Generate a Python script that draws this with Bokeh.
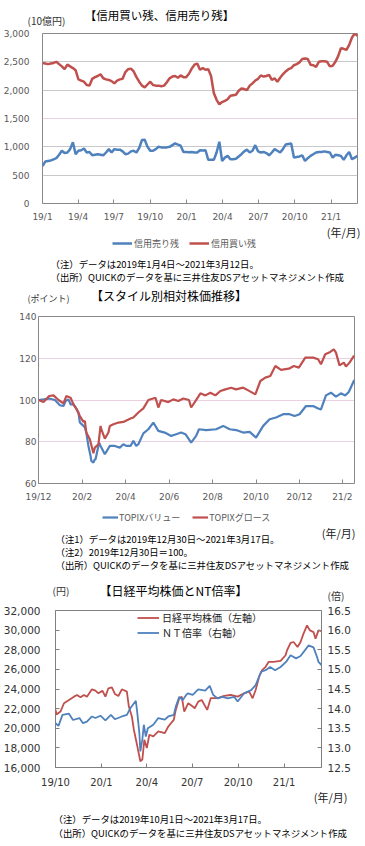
import pandas as pd
from bokeh.plotting import figure
from bokeh.layouts import column
from bokeh.models import (ColumnDataSource, Range1d, LinearAxis, FixedTicker, NumeralTickFormatter,
                          Legend, LegendItem, Span, Label)
from bokeh.embed import file_html
from bokeh.resources import INLINE

# ---------------- data: chart 1 (weekly, 10億円) ----------------
c1_start = "2019-01-04"
c1_end = "2021-03-12"
c1_buy = [2480, 2470, 2460, 2470, 2480, 2500, 2460, 2420, 2370, 2450,
          2420, 2390, 2350, 2190, 2170, 2150, 2090, 2080, 2200, 2230,
          2250, 2280, 2210, 2190, 2180, 2160, 2120, 2170, 2190, 2200,
          2320, 2370, 2380, 2330, 2230, 2150, 2080, 2050, 2100, 2150,
          2090, 2080, 2080, 2070, 2080, 2140, 2210, 2240, 2250, 2220,
          2260, 2230, 2230, 2290, 2380, 2450, 2470, 2360, 2390, 2360,
          2370, 2250, 1950, 1830, 1750, 1790, 1810, 1840, 1900, 1910,
          1920, 1990, 2030, 2020, 2000, 2080, 2120, 2170, 2200, 2260,
          2240, 2250, 2270, 2180, 2210, 2150, 2220, 2280, 2330, 2370,
          2390, 2440, 2460, 2490, 2550, 2560, 2550, 2450, 2440, 2410,
          2500, 2510, 2510, 2500, 2420, 2430, 2500, 2600, 2740, 2730,
          2710, 2800, 2930, 3000, 2960]
c1_sell = [660, 740, 750, 760, 780, 800, 860, 930, 890, 900,
           960, 1080, 870, 930, 940, 970, 900, 910, 850, 860,
           870, 860, 850, 900, 960, 900, 960, 950, 950, 920,
           870, 880, 920, 930, 900, 980, 1120, 1125, 1000, 930,
           930, 960, 1000, 990, 990, 990, 1000, 1030, 1060, 1040,
           1020, 910, 910, 905, 910, 900, 900, 940, 935, 940,
           770, 770, 770, 900, 1090, 750, 810, 840, 780, 780,
           790, 830, 870, 920, 950, 900, 930, 1030, 920, 900,
           910, 890, 850, 900, 960, 930, 900, 960, 1040, 1050,
           1060, 810, 820, 830, 850, 750, 800, 840, 870, 900,
           910, 910, 920, 910, 900, 810, 860, 850, 840, 770,
           850, 910, 780, 810, 840]
c1_tick_dates = ["2019-01-04", "2019-04-04", "2019-07-04", "2019-10-04", "2020-01-04",
                 "2020-04-04", "2020-07-04", "2020-10-04", "2021-01-04"]
c1_tick_labels = ["19/1", "19/4", "19/7", "19/10", "20/1", "20/4", "20/7", "20/10", "21/1"]
c1_yticks = [0, 500, 1000, 1500, 2000, 2500, 3000]

# ---------------- data: chart 2 (relative index) ----------------
c2_growth_dates = ["2019-12-30", "2020-01-06", "2020-01-14", "2020-01-20", "2020-01-27", "2020-02-03",
                   "2020-02-07", "2020-02-13", "2020-02-17", "2020-02-21", "2020-02-26", "2020-03-02",
                   "2020-03-04", "2020-03-06", "2020-03-11", "2020-03-16", "2020-03-18", "2020-03-23",
                   "2020-03-26", "2020-03-27", "2020-04-01", "2020-04-06", "2020-04-08", "2020-04-13",
                   "2020-04-20", "2020-04-27", "2020-05-07", "2020-05-11", "2020-05-18", "2020-05-25",
                   "2020-06-01", "2020-06-11", "2020-06-15", "2020-06-19", "2020-06-29", "2020-07-06",
                   "2020-07-13", "2020-07-20", "2020-07-28", "2020-07-31", "2020-08-06", "2020-08-13",
                   "2020-08-20", "2020-08-27", "2020-09-03", "2020-09-10", "2020-09-17", "2020-09-25",
                   "2020-10-02", "2020-10-12", "2020-10-19", "2020-10-29", "2020-11-05", "2020-11-12",
                   "2020-11-19", "2020-11-26", "2020-12-04", "2020-12-15", "2020-12-22", "2020-12-29",
                   "2021-01-07", "2021-01-18", "2021-01-25", "2021-01-29", "2021-02-04", "2021-02-11",
                   "2021-02-16", "2021-02-19", "2021-02-24", "2021-03-02", "2021-03-05", "2021-03-10",
                   "2021-03-16", "2021-03-17"]
c2_growth = [100.0, 99.0, 101.9, 102.2, 100.0, 98.4,
             101.9, 101.1, 97.9, 95.9, 92.3, 89.5,
             90.0, 84.4, 81.2, 74.5, 77.2, 78.8,
             87.6, 86.0, 81.5, 84.4, 87.6, 88.4,
             89.2, 89.5, 91.1, 91.6, 94.0, 96.0,
             100.0, 101.1, 96.4, 100.0, 99.0, 100.3,
             99.5, 100.7, 100.0, 96.4, 99.5, 103.2,
             102.2, 103.5, 102.2, 104.3, 105.1, 105.9,
             105.1, 105.9, 104.6, 102.7, 109.1, 110.7,
             111.5, 116.3, 114.4, 115.0, 116.3, 115.5,
             120.3, 120.3, 119.5, 117.1, 121.9, 123.0,
             124.3, 122.7, 116.6, 117.9, 116.0, 117.9,
             121.0, 121.0]
c2_value_dates = ["2019-12-30", "2020-01-06", "2020-01-14", "2020-01-22", "2020-01-29", "2020-02-03",
                  "2020-02-06", "2020-02-10", "2020-02-13", "2020-02-17", "2020-02-20", "2020-02-24",
                  "2020-02-26", "2020-03-02", "2020-03-04", "2020-03-06", "2020-03-09", "2020-03-12",
                  "2020-03-13", "2020-03-16", "2020-03-18", "2020-03-19", "2020-03-24", "2020-03-26",
                  "2020-04-01", "2020-04-08", "2020-04-15", "2020-04-22", "2020-04-27", "2020-05-01",
                  "2020-05-07", "2020-05-11", "2020-05-15", "2020-05-18", "2020-05-25", "2020-06-01",
                  "2020-06-08", "2020-06-15", "2020-06-24", "2020-07-03", "2020-07-10", "2020-07-17",
                  "2020-07-23", "2020-07-31", "2020-08-07", "2020-08-11", "2020-08-21", "2020-09-04",
                  "2020-09-14", "2020-09-23", "2020-10-02", "2020-10-12", "2020-10-21", "2020-10-30",
                  "2020-11-09", "2020-11-18", "2020-11-27", "2020-12-07", "2020-12-16", "2020-12-23",
                  "2020-12-30", "2021-01-08", "2021-01-18", "2021-01-25", "2021-01-29", "2021-02-05",
                  "2021-02-12", "2021-02-19", "2021-02-26", "2021-03-04", "2021-03-09", "2021-03-16",
                  "2021-03-17"]
c2_value = [100.0, 100.3, 100.7, 100.0, 97.5, 97.1,
            99.5, 100.3, 97.9, 97.9, 96.4, 94.0,
            89.2, 87.6, 86.8, 84.4, 78.0, 73.2,
            70.8, 70.0, 71.6, 71.6, 79.6, 78.0,
            74.0, 78.0, 78.0, 77.2, 78.8, 78.0,
            78.0, 80.4, 78.0, 78.8, 84.0, 86.0,
            89.2, 85.2, 84.4, 82.8, 83.6, 84.4,
            83.6, 79.6, 82.8, 86.0, 85.6, 86.0,
            87.6, 86.0, 85.6, 84.4, 84.7, 82.0,
            87.6, 90.8, 91.6, 93.2, 93.2, 92.3,
            93.2, 97.1, 97.1, 95.9, 95.5, 102.2,
            103.5, 101.6, 103.2, 102.2, 103.8, 109.1,
            109.5]
c2_start = "2019-12-30"
c2_end = "2021-03-17"
c2_tick_dates = ["2019-12-30", "2020-02-29", "2020-04-30", "2020-06-30", "2020-08-30",
                 "2020-10-30", "2020-12-30", "2021-02-28"]
c2_tick_labels = ["19/12", "20/2", "20/4", "20/6", "20/8", "20/10", "20/12", "21/2"]
c2_yticks = [60, 80, 100, 120, 140]

# ---------------- data: chart 3 (Nikkei, NT ratio) ----------------
c3_nk_dates = ["2019-10-01", "2019-10-03", "2019-10-11", "2019-10-18", "2019-10-28", "2019-11-07",
               "2019-11-13", "2019-11-20", "2019-11-27", "2019-12-03", "2019-12-13", "2019-12-20",
               "2019-12-26", "2020-01-03", "2020-01-09", "2020-01-15", "2020-01-22", "2020-01-28",
               "2020-02-04", "2020-02-11", "2020-02-21", "2020-02-25", "2020-03-02", "2020-03-06",
               "2020-03-13", "2020-03-19", "2020-03-23", "2020-03-27", "2020-04-01", "2020-04-06",
               "2020-04-14", "2020-04-24", "2020-05-07", "2020-05-14", "2020-05-25", "2020-05-29",
               "2020-06-05", "2020-06-10", "2020-06-15", "2020-06-23", "2020-07-02", "2020-07-06",
               "2020-07-13", "2020-07-20", "2020-07-31", "2020-08-07", "2020-08-21", "2020-09-03",
               "2020-09-16", "2020-09-30", "2020-10-13", "2020-10-23", "2020-10-30", "2020-11-05",
               "2020-11-12", "2020-11-18", "2020-11-25", "2020-12-01", "2020-12-11", "2020-12-25",
               "2021-01-04", "2021-01-07", "2021-01-14", "2021-01-20", "2021-01-28", "2021-02-03",
               "2021-02-09", "2021-02-16", "2021-02-22", "2021-03-01", "2021-03-05", "2021-03-11",
               "2021-03-17"]
c3_nikkei = [21900, 21400, 21700, 22550, 22880, 23220,
             23390, 23160, 23390, 23220, 23970, 23830,
             23560, 23830, 23220, 24070, 24170, 23500,
             23290, 23970, 23730, 22210, 21200, 19850,
             18160, 16640, 16810, 18830, 17990, 19340,
             19170, 19680, 19510, 20180, 20860, 21870,
             23060, 23220, 21700, 22550, 22210, 22040,
             22710, 22880, 21870, 23060, 23060, 23290,
             23390, 23220, 23560, 23730, 23060, 23900,
             25250, 25920, 26260, 26760, 26760, 26870,
             27440, 27950, 28690, 28790, 28280, 28790,
             29640, 30480, 29970, 29800, 29130, 29970,
             29900]
c3_nt_dates = ["2019-10-01", "2019-10-07", "2019-10-15", "2019-10-28", "2019-11-05", "2019-11-18",
               "2019-11-25", "2019-12-03", "2019-12-13", "2019-12-20", "2019-12-30", "2020-01-09",
               "2020-01-20", "2020-01-28", "2020-02-11", "2020-02-21", "2020-02-28", "2020-03-10",
               "2020-03-13", "2020-03-17", "2020-03-19", "2020-03-23", "2020-03-26", "2020-03-30",
               "2020-04-03", "2020-04-14", "2020-04-24", "2020-05-07", "2020-05-14", "2020-05-25",
               "2020-05-29", "2020-06-05", "2020-06-12", "2020-06-19", "2020-06-22", "2020-07-02",
               "2020-07-13", "2020-07-27", "2020-08-05", "2020-08-12", "2020-08-21", "2020-08-31",
               "2020-09-10", "2020-09-23", "2020-09-30", "2020-10-13", "2020-10-27", "2020-11-05",
               "2020-11-16", "2020-11-25", "2020-12-04", "2020-12-14", "2020-12-25", "2021-01-05",
               "2021-01-14", "2021-01-25", "2021-02-03", "2021-02-12", "2021-02-19", "2021-03-01",
               "2021-03-08", "2021-03-11", "2021-03-17"]
c3_nt = [13.63, 13.56, 13.84, 13.87, 13.71, 13.76,
         13.63, 13.67, 13.80, 13.76, 13.82, 13.70,
         13.84, 13.73, 13.80, 13.84, 14.01, 14.20,
         13.88, 13.38, 12.91, 13.21, 13.59, 13.29,
         13.50, 13.59, 13.76, 13.72, 13.80, 13.84,
         14.05, 14.30, 14.22, 14.35, 14.39, 14.35,
         14.49, 14.46, 14.58, 14.35, 14.26, 14.30,
         14.26, 14.30, 14.18, 14.39, 14.47, 14.60,
         14.94, 14.98, 15.06, 14.98, 15.06, 15.19,
         15.36, 15.28, 15.34, 15.49, 15.61, 15.56,
         15.32, 15.19, 15.11]
c3_start = "2019-10-01"
c3_end = "2021-03-17"
c3_tick_dates = ["2019-10-01", "2020-01-01", "2020-04-01", "2020-07-01", "2020-10-01", "2021-01-01"]
c3_tick_labels = ["19/10", "20/1", "20/4", "20/7", "20/10", "21/1"]
c3_left_ticks = [16000, 18000, 20000, 22000, 24000, 26000, 28000, 30000, 32000]
c3_right_ticks = [12.5, 13.0, 13.5, 14.0, 14.5, 15.0, 15.5, 16.0, 16.5]

# ---------------- styling helpers ----------------
JP = "Noto Sans CJK JP"
NUM = "DejaVu Sans"
BLUE = "#4F81BD"
RED = "#C0504D"
W = 365
NOTE = 9.4
NAN = float("nan")


def ms(d):
    return pd.Timestamp(d).value / 1e6


def no_align(p):
    try:
        p.frame_align = False
    except AttributeError:
        pass


def make_fig(h, bl, br, bt, bb, x0, x1, y0, y1):
    p = figure(width=W, height=h, x_axis_type="datetime", output_backend="svg",
               toolbar_location=None, title=None,
               x_range=Range1d(ms(x0), ms(x1)), y_range=Range1d(y0, y1),
               min_border_left=bl, min_border_right=br, min_border_top=bt, min_border_bottom=bb)
    p.background_fill_color = "white"
    p.border_fill_color = "white"
    p.outline_line_color = "#898989"
    p.outline_line_width = 1
    p.xgrid.visible = False
    p.ygrid.visible = False
    no_align(p)
    return p


def strip(h):
    s = figure(width=W, height=h, output_backend="svg", toolbar_location=None, title=None,
               x_range=Range1d(0, 1), y_range=Range1d(0, 1),
               x_axis_location=None, y_axis_location=None,
               min_border_left=0, min_border_right=0, min_border_top=0, min_border_bottom=0)
    s.outline_line_color = None
    s.background_fill_color = "white"
    s.border_fill_color = "white"
    s.grid.visible = False
    no_align(s)
    return s


def style_xaxis(p, tick_dates, tick_labels, size, color, standoff):
    ticks = [ms(d) for d in tick_dates]
    ax = p.xaxis[0]
    ax.ticker = FixedTicker(ticks=ticks)
    ax.major_label_overrides = {t: l for t, l in zip(ticks, tick_labels)}
    ax.axis_line_color = None
    ax.major_tick_in = 4
    ax.major_tick_out = 0
    ax.major_tick_line_color = "#898989"
    ax.minor_tick_line_color = None
    ax.major_label_standoff = standoff
    ax.major_label_text_font = NUM
    ax.major_label_text_font_size = f"{size}px"
    ax.major_label_text_color = color


def style_yaxis(ax, ticks, fmt, size, color, standoff, tick_in=0):
    ax.ticker = FixedTicker(ticks=ticks)
    ax.formatter = NumeralTickFormatter(format=fmt)
    ax.axis_line_color = None
    ax.major_tick_in = tick_in
    ax.major_tick_out = 0
    ax.major_tick_line_color = "#7F7F7F"
    ax.minor_tick_line_color = None
    ax.major_label_standoff = standoff
    ax.major_label_text_font = NUM
    ax.major_label_text_font_size = f"{size}px"
    ax.major_label_text_color = color


def put(s, h, x, y_top, txt, size, align="left", color="#000000"):
    """Text in a strip figure; y_top is measured from the strip's top edge."""
    s.add_layout(Label(x=x, y=h - y_top, x_units="screen", y_units="screen", text=txt,
                       text_font=JP, text_font_size=f"{size}px", text_align=align,
                       text_baseline="middle", text_color=color))


def key(s, color, width):
    """Legend key renderer for a strip (holds no visible data)."""
    return s.line(x=[NAN], y=[NAN], line_color=color, line_width=width)


def series_legend(p, items, loc, orientation, glyph_w, lh, standoff, spacing, size, color):
    lg = Legend(items=items, location=loc, orientation=orientation,
                glyph_width=glyph_w, glyph_height=lh, label_height=lh,
                label_standoff=standoff, spacing=spacing, padding=0, margin=0,
                border_line_color=None, background_fill_alpha=0,
                label_text_font=JP, label_text_font_size=f"{size}px",
                label_text_color=color, label_text_baseline="middle")
    p.add_layout(lg, "center")


NOTE_SRC = "（出所）QUICKのデータを基に三井住友DSアセットマネジメント作成"

# ---------------- chart 1 ----------------
t1 = strip(27)
put(t1, 27, 159, 14, "【信用買い残、信用売り残】", 11.5, "center")
put(t1, 27, 27, 20, "(10億円)", 10, "left", "#333333")

p1 = make_fig(198, 41, 8, 6, 22, c1_start, c1_end, 0, 3000)
style_xaxis(p1, c1_tick_dates, c1_tick_labels, 9, "#595959", 8)
style_yaxis(p1.yaxis[0], c1_yticks, "0,0", 9, "#595959", 13)
p1.ygrid.visible = True
p1.ygrid.ticker = FixedTicker(ticks=[500, 1000, 2000, 2500])
p1.ygrid.grid_line_color = "#C8C8C8"
p1.add_layout(Span(location=1500, dimension="width", line_color="#D6A0C8",
                   line_dash="1 1", line_width=1))
c1_dates = pd.date_range(c1_start, c1_end, freq="W-FRI")
src1 = ColumnDataSource(dict(x=c1_dates, sell=c1_sell, buy=c1_buy))
p1.line("x", "sell", source=src1, line_color=BLUE, line_width=2.5)
p1.line("x", "buy", source=src1, line_color=RED, line_width=2.5)

s1 = strip(58)
series_legend(s1, [LegendItem(label="信用売り残", renderers=[key(s1, BLUE, 2.5)]),
                   LegendItem(label="信用買い残", renderers=[key(s1, RED, 2.5)])],
              (112, 33), "horizontal", 20, 14, 2, 10, 9, "#595959")
put(s1, 58, 360, 6, "(年/月)", 11, "right", "#222222")
put(s1, 58, 50, 38, "（注）データは2019年1月4日～2021年3月12日。", NOTE)
put(s1, 58, 50, 51, NOTE_SRC, NOTE)

# ---------------- chart 2 ----------------
t2 = strip(27)
put(t2, 27, 168.5, 12, "【スタイル別相対株価推移】", 12, "center")
put(t2, 27, 27, 15, "(ポイント)", 9, "left", "#333333")

p2 = make_fig(195, 38, 11, 6, 22, c2_start, c2_end, 60, 140)
style_xaxis(p2, c2_tick_dates, c2_tick_labels, 9, "#595959", 8)
style_yaxis(p2.yaxis[0], c2_yticks, "0", 9, "#595959", 2)
p2.ygrid.visible = True
p2.ygrid.ticker = FixedTicker(ticks=[80, 100, 120])
p2.ygrid.grid_line_color = "#D6A0C8"
p2.ygrid.grid_line_dash = "1 1"
src2v = ColumnDataSource(dict(x=pd.to_datetime(c2_value_dates), y=c2_value))
src2g = ColumnDataSource(dict(x=pd.to_datetime(c2_growth_dates), y=c2_growth))
p2.line("x", "y", source=src2v, line_color=BLUE, line_width=2.2)
p2.line("x", "y", source=src2g, line_color=RED, line_width=2.2)

s2 = strip(68)
series_legend(s2, [LegendItem(label="TOPIXバリュー", renderers=[key(s2, BLUE, 2.2)]),
                   LegendItem(label="TOPIXグロース", renderers=[key(s2, RED, 2.2)])],
              (102, 49), "horizontal", 16, 14, 1, 12, 9, "#595959")
put(s2, 68, 355, 27, "(年/月)", 11, "right", "#222222")
put(s2, 68, 55, 33, "（注1）データは2019年12月30日～2021年3月17日。", NOTE)
put(s2, 68, 55, 46, "（注2）2019年12月30日＝100。", NOTE)
put(s2, 68, 55, 59, NOTE_SRC, NOTE)

# ---------------- chart 3 ----------------
t3 = strip(31)
put(t3, 31, 173, 17, "【日経平均株価とNT倍率】", 12, "center")
put(t3, 31, 52, 17, "(円)", 10, "left", "#333333")
put(t3, 31, 327, 22, "(倍)", 10, "left", "#333333")

p3 = make_fig(186, 53, 44, 6, 22, c3_start, c3_end, 16000, 32000)
p3.outline_line_color = "#7F7F7F"
p3.extra_y_ranges = {"nt": Range1d(12.5, 16.5)}
ax_r = LinearAxis(y_range_name="nt")
p3.add_layout(ax_r, "right")
style_xaxis(p3, c3_tick_dates, c3_tick_labels, 10, "#333333", 9)
p3.xaxis[0].major_tick_line_color = "#7F7F7F"
style_yaxis(p3.yaxis[0], c3_left_ticks, "0,0", 10.5, "#333333", 15, tick_in=4)
style_yaxis(ax_r, c3_right_ticks, "0.0", 10.5, "#333333", 6, tick_in=4)
src3n = ColumnDataSource(dict(x=pd.to_datetime(c3_nk_dates), y=c3_nikkei))
src3t = ColumnDataSource(dict(x=pd.to_datetime(c3_nt_dates), y=c3_nt))
r3r = p3.line("x", "y", source=src3n, line_color=RED, line_width=1.8)
r3b = p3.line("x", "y", source=src3t, line_color=BLUE, line_width=1.8, y_range_name="nt")
series_legend(p3, [LegendItem(label="日経平均株価（左軸）", renderers=[r3r]),
                   LegendItem(label="ＮＴ倍率（右軸）", renderers=[r3b])],
              (82, 127.5), "vertical", 22, 15, 3, 0, 10, "#222222")

s3 = strip(56)
put(s3, 56, 347, 6, "(年/月)", 11, "right", "#222222")
put(s3, 56, 53, 28, "（注）データは2019年10月1日～2021年3月17日。", NOTE)
put(s3, 56, 53, 42, NOTE_SRC, NOTE)

layout = column(t1, p1, s1, t2, p2, s2, t3, p3, s3, spacing=0)
open("out.html", "w").write(file_html(layout, INLINE))
